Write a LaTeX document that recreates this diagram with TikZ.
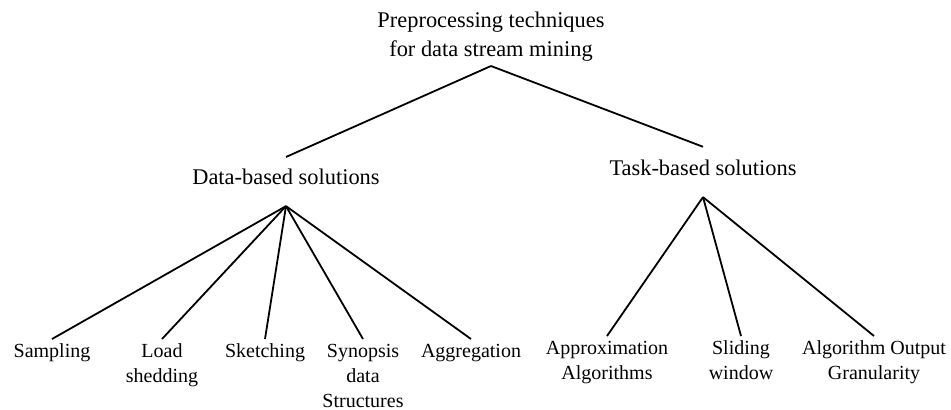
\documentclass[tikz,border=0pt]{standalone}
\usepackage{fontspec}
\setmainfont{Liberation Serif}
\usetikzlibrary{positioning}

\begin{document}
\begin{tikzpicture}[x=0.5pt,y=-0.5pt,line width=0.9pt,
    every node/.style={inner sep=2pt,align=center,font=\fontsize{10}{12.5}\selectfont},
    head/.style={font=\fontsize{11.2}{14.5}\selectfont},
    leaf/.style={anchor=north}]
   \useasboundingbox (0,0) rectangle (951,409);
   % top of the tree
   \node[head,anchor=south] (pre) at (491,66) {Preprocessing techniques\\for data stream mining};
   \node[head,anchor=base] (data) at (286,184) {Data-based solutions};
   \node[head,anchor=base] (task) at (703,175) {Task-based solutions};
   \coordinate (dfork) at ([yshift=-8.5pt]data.south);
   \coordinate (tfork) at ([yshift=-8.5pt]task.south);
   % leaves
   \node[leaf] (samp)   at (52,339)  {Sampling};
   \node[leaf] (load)   at (162,339) {Load\\shedding};
   \node[leaf] (sketch) at (265,339) {Sketching};
   \node[leaf] (syn)    at (363,339) {Synopsis\\data\\Structures};
   \node[leaf] (aggr)   at (471,339) {Aggregation};
   \node[leaf] (approx) at (607,336) {Approximation\\Algorithms};
   \node[leaf] (slide)  at (741,336) {Sliding\\window};
   \node[leaf] (gran)   at (874,336) {Algorithm Output\\Granularity};
    \path
    (pre.south) edge ([yshift=3.3pt]data.north)
                edge ([yshift=3.9pt]task.north)
    (dfork) edge (samp.north) edge (load.north) edge (sketch.north)
            edge (syn.north) edge (aggr.north)
    (tfork) edge (approx.north) edge (slide.north) edge (gran.north);
\end{tikzpicture}
\end{document}
